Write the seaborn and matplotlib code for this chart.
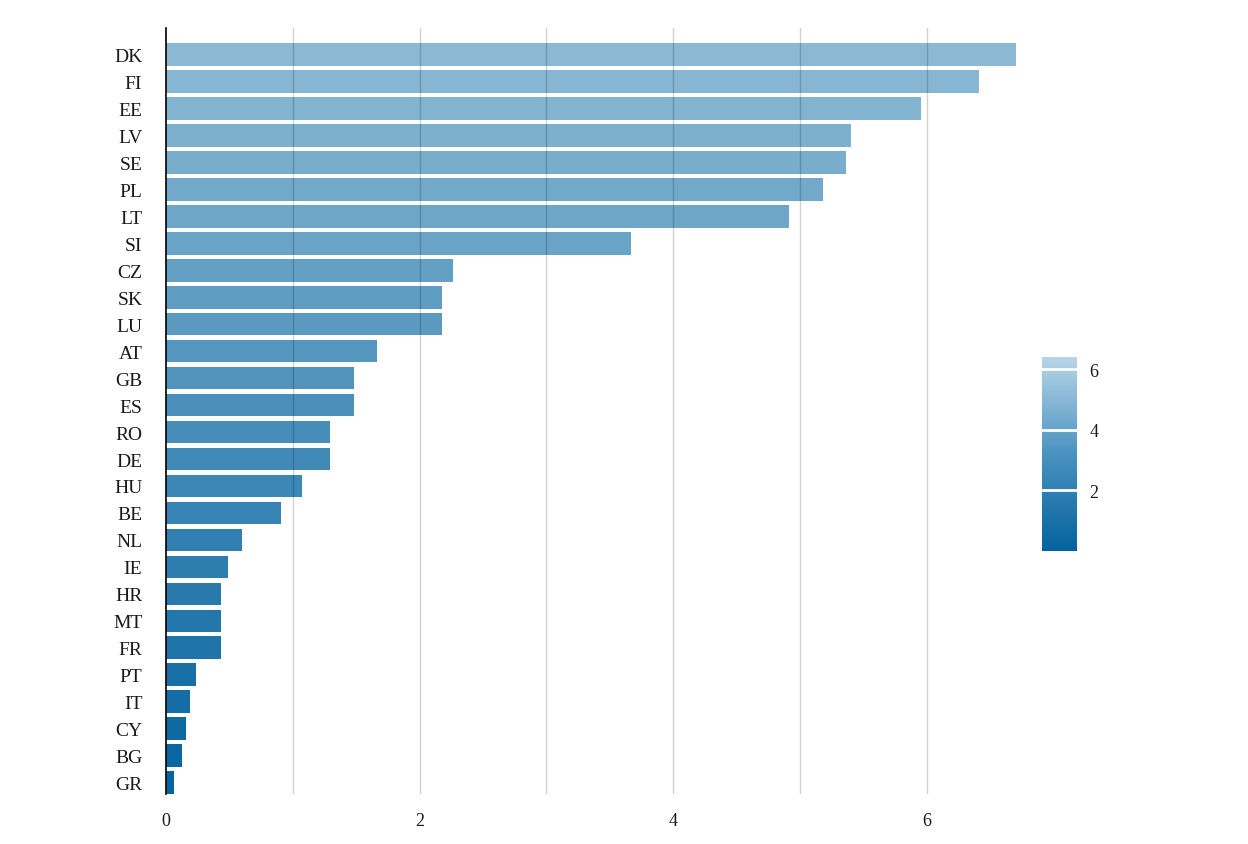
import matplotlib
matplotlib.use("Agg")
import matplotlib.pyplot as plt
import matplotlib.colors as mcolors
import matplotlib.cm as cm
import seaborn as sns
import pandas as pd

countries = ["DK", "FI", "EE", "LV", "SE", "PL", "LT", "SI", "CZ", "SK", "LU", "AT",
             "GB", "ES", "RO", "DE", "HU", "BE", "NL", "IE", "HR", "MT", "FR", "PT",
             "IT", "CY", "BG", "GR"]
values = [6.70, 6.41, 5.95, 5.40, 5.36, 5.18, 4.91, 3.67, 2.26, 2.18, 2.18, 1.66,
          1.48, 1.48, 1.29, 1.29, 1.07, 0.91, 0.60, 0.49, 0.43, 0.43, 0.43, 0.24,
          0.19, 0.16, 0.13, 0.06]
x_ticks = [0, 2, 4, 6]
cbar_ticks = [2, 4, 6]

sns.set_theme(style="white")
plt.rcParams["font.family"] = ["Liberation Serif", "DejaVu Serif"]

df = pd.DataFrame({"country": countries, "value": values})
palette = sns.blend_palette(["#8bb9d3", "#0664a0"], len(countries))

fig = plt.figure(figsize=(12.48, 8.45), dpi=100)
ax = fig.add_axes([166 / 1248, 50 / 845, 856 / 1248, 766 / 845])

sns.barplot(data=df, x="value", y="country", hue="country", palette=palette,
            legend=False, width=0.84, ax=ax, saturation=1, edgecolor="none")

ax.set_xlim(0, 6.75)
ax.set_ylim(27.42, -0.98)
ax.set_xticks(x_ticks)
ax.set_xlabel("")
ax.set_ylabel("")
ax.grid(False)
for gx in [1, 2, 3, 4, 5, 6]:
    ax.axvline(gx, color="black", alpha=0.18, lw=1, zorder=5)

for s in ["top", "right", "bottom"]:
    ax.spines[s].set_visible(False)
ax.spines["left"].set_color("black")
ax.spines["left"].set_linewidth(1.2)
ax.spines["left"].set_zorder(6)
ax.tick_params(axis="y", length=0, pad=17, labelsize=14, labelcolor="#1a1a1a")
ax.tick_params(axis="x", which="both", length=0, pad=13, labelsize=13, labelcolor="#1a1a1a")

# colorbar
cax = fig.add_axes([1042 / 1248, 293 / 845, 35 / 1248, 194 / 845])
cmap = mcolors.LinearSegmentedColormap.from_list("bl", ["#03629e", "#4a92c0", "#b8d5e7"])
norm = mcolors.Normalize(vmin=0, vmax=6.41)
cb = fig.colorbar(cm.ScalarMappable(norm=norm, cmap=cmap), cax=cax)
cb.outline.set_visible(False)
cb.set_ticks(cbar_ticks)
cax.tick_params(length=0, pad=9, labelsize=13, labelcolor="#1a1a1a")
for t in cbar_ticks:
    cax.axhline(t, color="white", lw=2)

fig.savefig("out.png", dpi=100)
